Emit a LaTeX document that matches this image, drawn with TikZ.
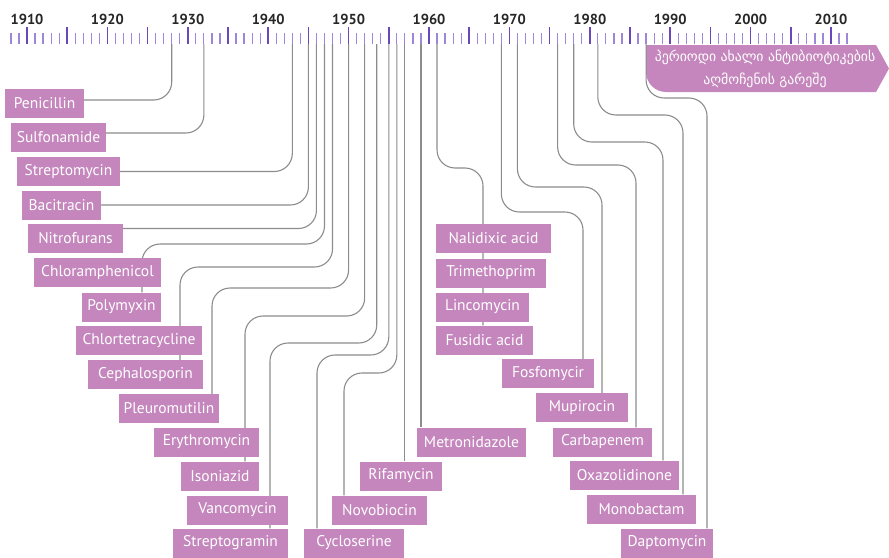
\documentclass[tikz,border=0pt]{standalone}
\usepackage{fontspec}
\setmainfont{PT Sans}
\newfontfamily\geofont[Script=Georgian]{DejaVu Sans}
\usepackage{xcolor}
\usepackage{tikz}
\usetikzlibrary{backgrounds}
\definecolor{drugpink}{HTML}{C486BC}
\definecolor{tickdark}{HTML}{6A48BC}
\definecolor{ticklight}{HTML}{9E86D8}
\definecolor{linegray}{HTML}{8C8C8C}
\tikzstyle{drug} = [fill=drugpink, text=white, minimum height=29pt, inner sep=0pt, font=\fontsize{15.5}{15.5}\selectfont]
\tikzstyle{link} = [draw=linegray, line width=1.1pt, rounded corners=18pt]

\begin{document}
\begin{tikzpicture}[
        x=1pt, y=-1pt,
        declare function={
            yr(\x) = 27+(\x-1910)*8.04;
        }
    ]
    \useasboundingbox (0,0) rectangle (889,557);

    % timeline
    \foreach \yy in {1908,...,2012} {
        \pgfmathtruncatemacro{\m}{mod(\yy,5)}
        \ifnum\m=0
            \draw[tickdark, line width=1.6pt] ({yr(\yy)},27) -- ({yr(\yy)},44);
        \else
            \draw[ticklight, line width=1.2pt] ({yr(\yy)},33) -- ({yr(\yy)},44);
        \fi
    }
    \foreach \yy in {1910,1920,...,2010}
        \node[font=\bfseries\fontsize{14.5}{14.5}\selectfont, text=black!85] (y\yy) at ({yr(\yy)},19) {\yy};

    \foreach \yy in {1928,1932,1943,1945,1946,1947,1948,1950,1952,1955,1956,1957,1959,1961,1969,1971,1976,1978,1981,1987}
        \coordinate (t\yy) at ({yr(\yy)},44);
    \coordinate (t1953h) at ({yr(1953.5)},44);

    % antibiotics
    \node[drug, minimum width=79pt] (penicillin) at (44.5,103.5) {Penicillin};
    \node[drug, minimum width=95pt] (sulfonamide) at (58.5,137) {Sulfonamide};
    \node[drug, minimum width=103pt] (streptomycin) at (68.5,171.5) {Streptomycin};
    \node[drug, minimum width=79pt] (bacitracin) at (61.5,205) {Bacitracin};
    \node[drug, minimum width=95pt] (nitrofurans) at (75.5,238.5) {Nitrofurans};
    \node[drug, minimum width=127pt] (chloramphenicol) at (97.5,272.5) {Chloramphenicol};
    \node[drug, minimum width=79pt] (polymyxin) at (121.5,307) {Polymyxin};
    \node[drug, minimum width=126pt] (chlortetracycline) at (139,340.5) {Chlortetracycline};
    \node[drug, minimum width=115pt] (cephalosporin) at (145.5,374.5) {Cephalosporin};
    \node[drug, minimum width=100pt] (pleuromutilin) at (169,408.5) {Pleuromutilin};
    \node[drug, minimum width=105pt] (erythromycin) at (206.5,442) {Erythromycin};
    \node[drug, minimum width=78pt] (isoniazid) at (220,476) {Isoniazid};
    \node[drug, minimum width=101pt] (vancomycin) at (237.5,510) {Vancomycin};
    \node[drug, minimum width=115pt] (streptogramin) at (230.5,543) {Streptogramin};
    \node[drug, minimum width=100pt] (cycloserine) at (354,543) {Cycloserine};
    \node[drug, minimum width=95pt] (novobiocin) at (379.5,510) {Novobiocin};
    \node[drug, minimum width=82pt] (rifamycin) at (401,476) {Rifamycin};
    \node[drug, minimum width=109pt] (metronidazole) at (471.5,442) {Metronidazole};
    \node[drug, minimum width=115pt] (nalidixic) at (493.5,238.5) {Nalidixic acid};
    \node[drug, minimum width=110pt] (trimethoprim) at (491,273) {Trimethoprim};
    \node[drug, minimum width=93pt] (lincomycin) at (482.5,307) {Lincomycin};
    \node[drug, minimum width=97pt] (fusidic) at (484.5,340) {Fusidic acid};
    \node[drug, minimum width=92pt] (fosfomycir) at (548,373.5) {Fosfomycir};
    \node[drug, minimum width=92pt] (mupirocin) at (582,407.5) {Mupirocin};
    \node[drug, minimum width=99pt] (carbapenem) at (602.5,442) {Carbapenem};
    \node[drug, minimum width=109pt] (oxazolidinone) at (624.5,475) {Oxazolidinone};
    \node[drug, minimum width=109pt] (monobactam) at (641.5,509) {Monobactam};
    \node[drug, minimum width=92pt] (daptomycin) at (667,543) {Daptomycin};

    \begin{scope}[on background layer]
        % period without new discoveries
        \fill[drugpink] (646,45) -- (876,45) -- (889,68.5) -- (876,92) -- (666,92)
            .. controls (655,92) and (646,83) .. (646,72) -- cycle;

        \draw[link] (t1928) |- ([yshift=3.5pt]penicillin.east);
        \draw[link] (t1932) |- ([yshift=4pt]sulfonamide.east);
        \draw[link] (t1943) |- (streptomycin.east);
        \draw[link] (t1945) |- (bacitracin.east);
        \draw[link] (t1946) |- ([yshift=10pt]nitrofurans.east);
        \draw[link] (t1947) |- (142,244) -- ([xshift=20.5pt]polymyxin.north);
        \draw[link] (t1948) |- (180,267) -- ([xshift=34.5pt]cephalosporin.north);
        \draw[link] (t1950) |- (212,288) -- ([xshift=43pt]pleuromutilin.north);
        \draw[link] (t1952) |- (245,316) -- ([xshift=25pt]isoniazid.north);
        \draw[link] (t1953h) |- (270,343) -- ([xshift=39.5pt]streptogramin.north);
        \draw[link] (t1955) |- (317,355) -- ([xshift=-37pt]cycloserine.north);
        \draw[link] (t1956) |- (344,373) -- ([xshift=-35.5pt]novobiocin.north);
        \draw[link] (t1957) -- (t1957 |- rifamycin.north);
        \draw[link] (t1959) -- (t1959 |- metronidazole.north);
        \draw[link] (t1961) |- (483,168) -- ([xshift=-1.5pt]fusidic.north);
        \draw[link] (t1969) |- (583,212) -- ([xshift=35pt]fosfomycir.north);
        \draw[link] (t1971) |- (602,187) -- ([xshift=20pt]mupirocin.north);
        \draw[link] (t1976) |- (636,165) -- ([xshift=33.5pt]carbapenem.north);
        \draw[link] (t1978) |- (663,142) -- ([xshift=38.5pt]oxazolidinone.north);
        \draw[link] (t1981) |- (683,115) -- ([xshift=41.5pt]monobactam.north);
        \draw[link] (t1987) |- (707,98) -- ([xshift=40pt]daptomycin.north);
    \end{scope}

    \node[text=white, align=center, font=\geofont\fontsize{13.8}{22.5}\selectfont] (nodisc) at (765,69)
        {პერიოდი ახალი ანტიბიოტიკების\\აღმოჩენის გარეშე};
\end{tikzpicture}
\end{document}
